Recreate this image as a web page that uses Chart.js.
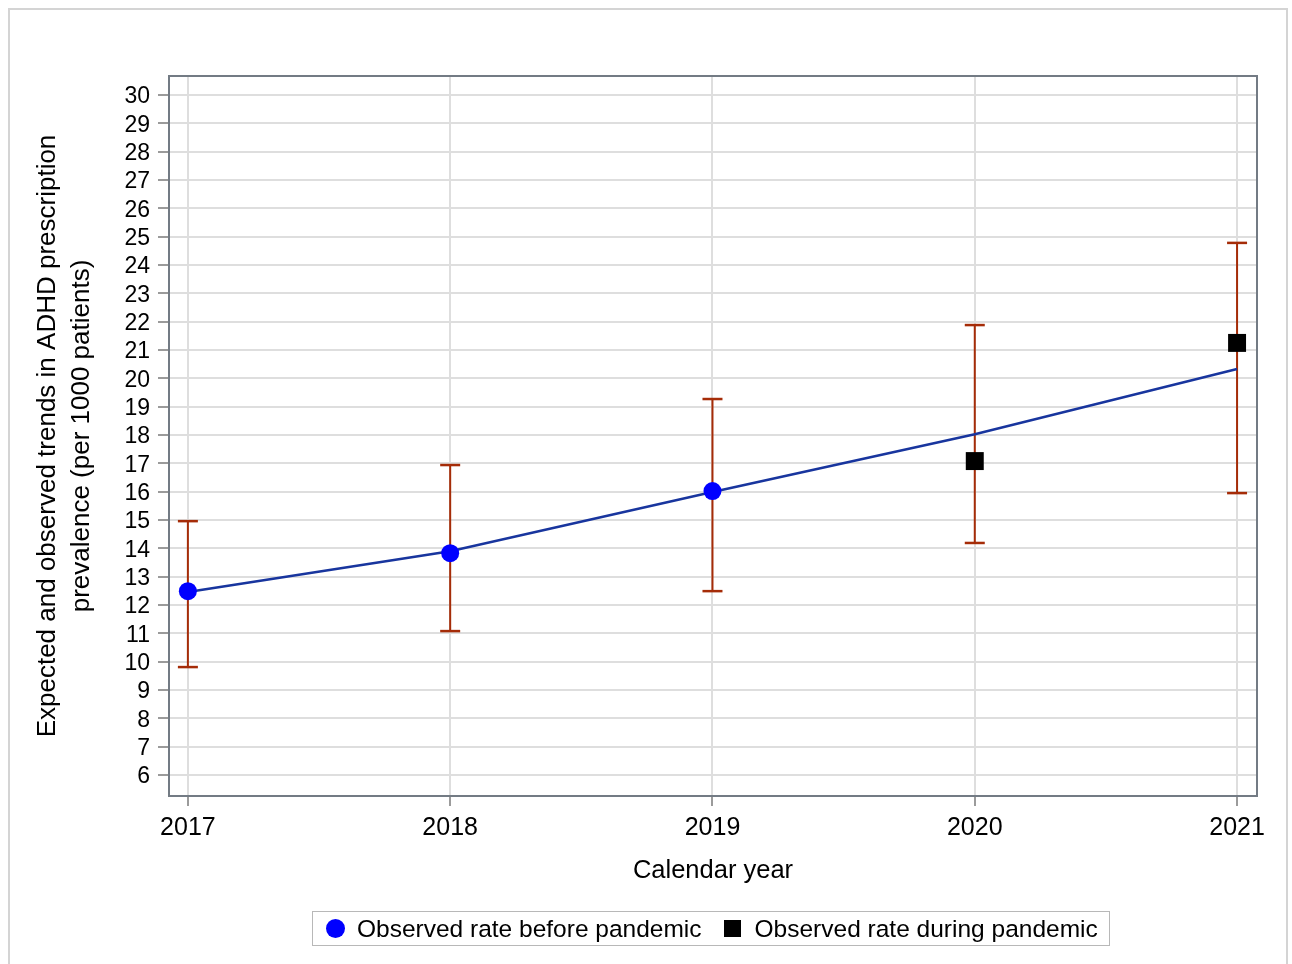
<!DOCTYPE html>
<html>
<head>
<meta charset="utf-8">
<script src="https://cdn.jsdelivr.net/npm/chart.js@4/dist/chart.umd.min.js"></script>
<style>
  body { margin: 0; background: #fff; font-family: "Liberation Sans", Arial, sans-serif; }
  #wrap { position: relative; width: 1292px; height: 964px; overflow: hidden; }
  #frame { position: absolute; left: 8px; top: 8px; width: 1280px; height: 1000px; border: 2px solid #d4d4d4; box-sizing: border-box; }
  #myChart { position: absolute; left: 0; top: 0; }
  #legend {
    position: absolute; left: 312px; top: 911px; width: 798px; height: 35px;
    border: 1.5px solid #b8b8b8; box-sizing: border-box;
    display: flex; align-items: center; font-size: 24.5px; color: #000; white-space: nowrap;
  }
  #legend .dot { width: 19px; height: 19px; border-radius: 50%; background: #0000ff; margin: 0 12px 0 13px; }
  #legend .sq { width: 17px; height: 17px; background: #000; margin: 0 14px 0 22px; }
</style>
</head>
<body>
<div id="wrap">
  <div id="frame"></div>
  <canvas id="myChart" width="1292" height="964"></canvas>
  <div id="legend">
    <span class="dot"></span><span>Observed rate before pandemic</span>
    <span class="sq"></span><span>Observed rate during pandemic</span>
  </div>
</div>
<script>
// expected trend and its interval
const years = [2017, 2018, 2019, 2020, 2021];
const expected = [12.46, 13.9, 15.99, 18.03, 20.33];
const lower = [9.81, 11.08, 12.49, 14.19, 15.95];
const upper = [14.96, 16.94, 19.27, 21.88, 24.78];

// observed rates
const beforeYears = [2017, 2018, 2019];
const beforeRate = [12.49, 13.83, 16.02];
const duringYears = [2020, 2021];
const duringRate = [17.08, 21.25];

const yTicks = [6, 30];

let errData = [];
years.forEach((yr, i) => {
  errData.push({ x: yr, y: lower[i] });
  errData.push({ x: yr, y: upper[i] });
  errData.push({ x: yr, y: null });
});

const frameBox = {
  id: "frameBox",
  afterDatasetsDraw(chart) {
    const { ctx, chartArea } = chart;
    ctx.save();
    ctx.strokeStyle = "#737b84";
    ctx.lineWidth = 2;
    ctx.strokeRect(chartArea.left, chartArea.top, chartArea.right - chartArea.left, chartArea.bottom - chartArea.top);
    ctx.restore();
  },
};

const ctx = document.getElementById("myChart");
new Chart(ctx, {
  type: "line",
  data: {
    datasets: [
      {
        label: "Observed rate before pandemic",
        data: beforeYears.map((x, i) => ({ x, y: beforeRate[i] })),
        showLine: false,
        pointStyle: "circle",
        pointRadius: 9,
        pointBackgroundColor: "#0000ff",
        pointBorderColor: "#0000ff",
        pointBorderWidth: 0,
        order: 1,
      },
      {
        label: "Observed rate during pandemic",
        data: duringYears.map((x, i) => ({ x, y: duringRate[i] })),
        showLine: false,
        pointStyle: "rect",
        pointRadius: 12.7,
        pointBackgroundColor: "#000",
        pointBorderColor: "#000",
        pointBorderWidth: 0,
        order: 1,
      },
      {
        label: "Expected",
        data: years.map((x, i) => ({ x, y: expected[i] })),
        borderColor: "#18359e",
        borderWidth: 2.5,
        pointRadius: 0,
        tension: 0,
        order: 2,
      },
      {
        label: "95% CI",
        data: errData,
        borderColor: "#a52c08",
        borderWidth: 2,
        spanGaps: false,
        pointStyle: "line",
        pointRadius: 10,
        pointBorderColor: "#a52c08",
        pointBorderWidth: 2.5,
        order: 3,
      },
    ],
  },
  plugins: [frameBox],
  options: {
    responsive: false,
    animation: false,
    layout: { padding: { top: 76, right: 35, left: 0, bottom: 0 } },
    plugins: {
      legend: { display: false },
      tooltip: { enabled: false },
    },
    scales: {
      x: {
        type: "linear",
        min: 2016.928,
        max: 2021.076,
        afterFit: (s) => { s.height = 168; },
        border: { display: false },
        grid: { color: "#dedede", lineWidth: 2, tickColor: "#7a7a7a", tickLength: 10, tickWidth: 1.5 },
        ticks: {
          stepSize: 1,
          includeBounds: false,
          padding: 7,
          color: "#000",
          font: { family: "Liberation Sans, Arial", size: 25 },
          callback: (v) => String(v),
        },
        title: {
          display: true,
          text: "Calendar year",
          color: "#000",
          font: { family: "Liberation Sans, Arial", size: 25.5 },
          padding: { top: 0, bottom: 78 },
        },
      },
      y: {
        type: "linear",
        min: 5.26,
        max: 30.67,
        afterFit: (s) => { s.width = 169; },
        border: { display: false },
        grid: { color: "#dedede", lineWidth: 2, tickColor: "#7a7a7a", tickLength: 11, tickWidth: 1.5 },
        ticks: {
          stepSize: 1,
          includeBounds: false,
          autoSkip: false,
          padding: 8,
          labelOffset: 2,
          color: "#000",
          font: { family: "Liberation Sans, Arial", size: 23 },
          callback: (v) => (v >= yTicks[0] && v <= yTicks[1] ? String(v) : ""),
        },
        title: {
          display: true,
          text: ["Expected and observed trends in ADHD prescription", "prevalence (per 1000 patients)"],
          color: "#000",
          font: { family: "Liberation Sans, Arial", size: 26, lineHeight: 1.31 },
          padding: { top: 31, bottom: 0 },
        },
      },
    },
  },
});
</script>
</body>
</html>
